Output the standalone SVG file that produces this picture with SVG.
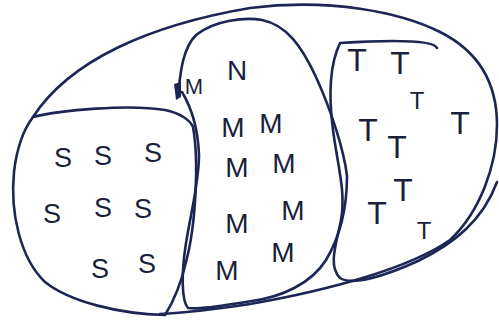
<svg xmlns="http://www.w3.org/2000/svg" width="499" height="320" viewBox="0 0 499 320">
<style>
.ln{fill:none;stroke:#1c2554;stroke-width:2.6;stroke-linecap:round;stroke-linejoin:round}
.lt{font-family:"Liberation Sans","DejaVu Sans",sans-serif;fill:#1a1f3a;text-anchor:middle;font-weight:normal}
.s{font-size:27px}
.m{font-size:28px}
.t{font-size:32px}
</style>
<rect width="499" height="320" fill="#ffffff"/>
<g id="outer">
<path class="ln" d="M33,117 C70,60 150,25 250,8 C330,-2 400,12 440,32 C480,52 497,85 497,125 C497,165 480,212 450,240 C410,268 330,290 250,304 C210,310 180,313 160,314"/>
</g>
<g id="region-s">
<path class="ln" d="M33,117 C60,110 130,104 165,110 C180,113 190,120 193,127 C199,160 196,225 186,262 C180,288 172,304 165,315 C120,314 70,302 45,282 C20,258 10,212 14,172 C17,146 24,129 33,117 Z"/>
<text class="lt s" x="63" y="167">S</text>
<text class="lt s" x="103" y="165">S</text>
<text class="lt s" x="153" y="162">S</text>
<text class="lt s" x="52" y="223">S</text>
<text class="lt s" x="103" y="217">S</text>
<text class="lt s" x="143" y="218">S</text>
<text class="lt s" x="100" y="278">S</text>
<text class="lt s" x="147" y="273">S</text>
</g>
<g id="region-m">
<path class="ln" d="M178,95 C180,80 181,50 196,35 C215,20 245,17 262,20 C287,25 302,47 316,77 C331,110 344,150 347,176 C347,214 338,240 326,260 C311,284 281,297 252,301 C225,305 202,310 188,308 C181,300 182,272 185,250 C189,220 199,185 199,155 C198,128 191,107 182,92"/>
<path d="M174,84 L181,82 L181,97 L176,100 Z" fill="#1c2554"/>
<text class="lt m" x="194" y="94" style="font-size:22px">M</text>
<text class="lt m" x="237" y="80">N</text>
<text class="lt m" x="233" y="137">M</text>
<text class="lt m" x="271" y="133">M</text>
<text class="lt m" x="237" y="177">M</text>
<text class="lt m" x="284" y="173">M</text>
<text class="lt m" x="237" y="233">M</text>
<text class="lt m" x="293" y="220">M</text>
<text class="lt m" x="227" y="280">M</text>
<text class="lt m" x="283" y="262">M</text>
</g>
<g id="region-t">
<path class="ln" d="M437,48 C434,41 405,39 340,43 C331,62 328,92 333,130 C338,168 346,192 341,220 C336,245 328,266 340,278 C352,286 385,276 418,261 C455,243 483,220 497,182"/>
<text class="lt t" x="357" y="71">T</text>
<text class="lt t" x="400" y="74">T</text>
<text class="lt t" x="417" y="109" style="font-size:24px">T</text>
<text class="lt t" x="368" y="141">T</text>
<text class="lt t" x="460" y="134">T</text>
<text class="lt t" x="397" y="158">T</text>
<text class="lt t" x="403" y="201">T</text>
<text class="lt t" x="377" y="224">T</text>
<text class="lt t" x="424" y="239" style="font-size:24px">T</text>
</g>
<g id="connectors"/>
</svg>
